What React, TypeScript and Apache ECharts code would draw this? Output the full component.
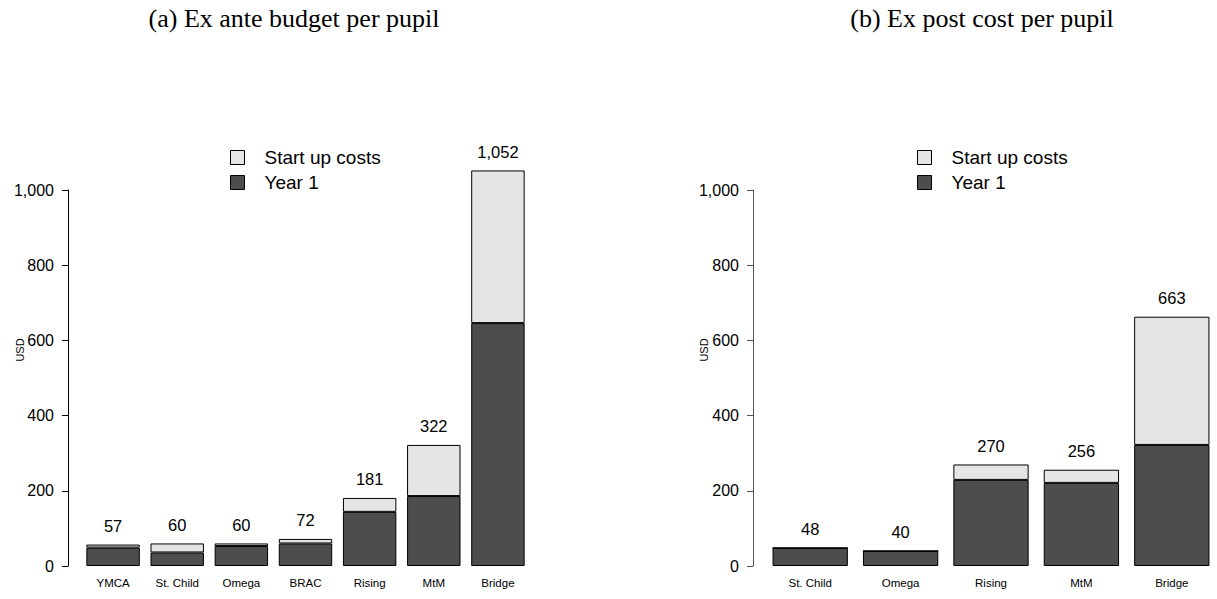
import React, { useEffect, useRef } from "react";
import * as echarts from "echarts";

const leftCategories = ["YMCA", "St. Child", "Omega", "BRAC", "Rising", "MtM", "Bridge"];
const leftYear1 = [49, 36, 53, 60, 144, 186, 646];
const leftStartup = [8, 24, 7, 12, 37, 136, 406];
const leftTotals = ["57", "60", "60", "72", "181", "322", "1,052"];

const rightCategories = ["St. Child", "Omega", "Rising", "MtM", "Bridge"];
const rightYear1 = [48, 40, 229, 221, 322];
const rightStartup = [0, 0, 41, 35, 341];
const rightTotals = ["48", "40", "270", "256", "663"];

const yTicks = [0, 200, 400, 600, 800, 1000];
const legendNames = ["Start up costs", "Year 1"];
const titles = ["(a) Ex ante budget per pupil", "(b) Ex post cost per pupil"];
const yName = "USD";

const DARK = "#4d4d4d";
const LIGHT = "#e5e5e5";
const FONT = "Liberation Sans, Arial, sans-serif";
const SERIF = "Liberation Serif, serif";

function fmt(v: number) {
  return v.toLocaleString("en-US");
}

export default function App() {
  const ref = useRef<HTMLDivElement>(null);
  useEffect(() => {
    if (!ref.current) return;
    const chart = echarts.init(ref.current, undefined, { renderer: "svg" });

    const yAxisBase = (gridIndex: number, offset: number, lineColor: string) => ({
      type: "value",
      gridIndex,
      min: yTicks[0],
      max: yTicks[yTicks.length - 1],
      interval: 200,
      offset,
      splitLine: { show: false },
      axisLine: { show: true, lineStyle: { color: lineColor, width: 1 } },
      axisTick: { show: true, length: 6, lineStyle: { color: lineColor } },
      axisLabel: {
        fontSize: 16,
        color: "#000",
        fontFamily: FONT,
        margin: 14,
        formatter: (v: number) => fmt(v),
      },
    });

    const xAxisBase = (gridIndex: number, data: string[]) => ({
      type: "category",
      gridIndex,
      data,
      axisLine: { show: false },
      axisTick: { show: false },
      axisLabel: { fontSize: 11.5, color: "#000", fontFamily: FONT, margin: 11 },
    });

    const barStyle = (color: string) => ({
      color,
      borderColor: "#000",
      borderWidth: 1,
    });

    const makeSeries = (
      idx: number,
      year1: number[],
      startup: number[],
      totals: string[]
    ) => [
      {
        name: legendNames[1],
        type: "bar",
        xAxisIndex: idx,
        yAxisIndex: idx,
        stack: "s" + idx,
        barCategoryGap: "16.7%",
        data: year1,
        itemStyle: barStyle(DARK),
        clip: false,
      },
      {
        name: legendNames[0],
        type: "bar",
        xAxisIndex: idx,
        yAxisIndex: idx,
        stack: "s" + idx,
        barCategoryGap: "16.7%",
        data: startup,
        itemStyle: barStyle(LIGHT),
        clip: false,
        label: {
          show: true,
          position: "top",
          distance: 10,
          fontSize: 16.5,
          color: "#000",
          fontFamily: FONT,
          formatter: (p: any) => totals[p.dataIndex],
        },
      },
    ];

    const legendBase = (left: number) => ({
      orient: "vertical",
      left,
      top: 143,
      data: legendNames,
      icon: "rect",
      itemWidth: 14,
      itemHeight: 14,
      itemGap: 6,
      selectedMode: false,
      itemStyle: { borderColor: "#000", borderWidth: 1 },
      textStyle: { fontSize: 19, color: "#000", fontFamily: FONT, padding: [0, 0, 0, 15] },
    });

    const titleBase = (text: string, left: number) => ({
      text,
      left,
      top: 0,
      textAlign: "center",
      textStyle: { fontFamily: SERIF, fontSize: 26, fontWeight: "normal", color: "#000" },
    });

    const usd = (x: number) => ({
      type: "text",
      x,
      y: 350,
      rotation: Math.PI / 2,
      style: {
        text: yName,
        fontSize: 11,
        fontFamily: FONT,
        fill: "#000",
        align: "center",
        verticalAlign: "middle",
      },
    });

    chart.setOption({
      animation: false,
      backgroundColor: "#fff",
      title: [titleBase(titles[0], 289), titleBase(titles[1], 977)],
      legend: [legendBase(225), legendBase(912)],
      graphic: [usd(20), usd(704)],
      grid: [
        { left: 81, top: 190, width: 449, height: 376 },
        { left: 765, top: 190, width: 454, height: 376 },
      ],
      xAxis: [xAxisBase(0, leftCategories), xAxisBase(1, rightCategories)],
      yAxis: [yAxisBase(0, 13, "#000"), yAxisBase(1, 12, "#555")],
      series: [
        ...makeSeries(0, leftYear1, leftStartup, leftTotals),
        ...makeSeries(1, rightYear1, rightStartup, rightTotals),
      ],
    });
    return () => chart.dispose();
  }, []);
  return (
    <div
      ref={ref}
      style={{ position: "fixed", left: 0, top: 0, width: 1217, height: 599 }}
    />
  );
}
